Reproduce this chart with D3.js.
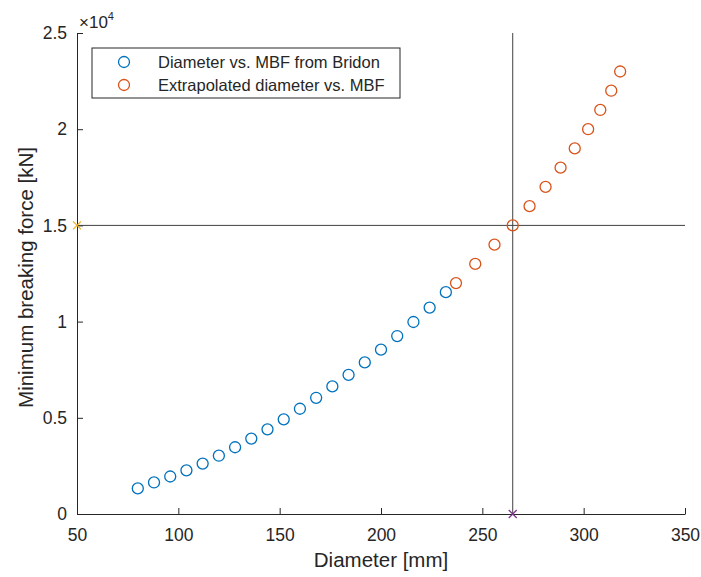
<!DOCTYPE html>
<html>
<head>
<meta charset="utf-8">
<script src="https://cdn.jsdelivr.net/npm/d3@7"></script>
<style>
  body { margin: 0; background: #fff; }
  svg { font-family: "Liberation Sans", Arial, sans-serif; }
</style>
</head>
<body>
<div id="chart"></div>
<script>
// Bridon data
const bridonDiameter = [80, 88, 96, 104, 112, 120, 128, 136, 144, 152, 160, 168, 176, 184, 192, 200, 208, 216, 224, 232];
const bridonMBF = [1330, 1640, 1950, 2270, 2620, 3030, 3470, 3920, 4400, 4920, 5470, 6040, 6630, 7230, 7880, 8540, 9250, 9980, 10730, 11530];

// Extrapolated
const extraMBF = [12000, 13000, 14000, 15000, 16000, 17000, 18000, 19000, 20000, 21000, 22000, 23000];
const extraDiameter = [237, 246.5, 256, 265, 273.3, 281.2, 288.6, 295.6, 302.2, 308.2, 313.6, 318];

const targetDiameter = 265;
const targetMBF = 15000;

const xTicks = [50, 100, 150, 200, 250, 300, 350];
const yTicks = [0, 5000, 10000, 15000, 20000, 25000];

const width = 701;
const height = 577;
const margin = { left: 77, right: 16, top: 33, bottom: 63 };

const svg = d3.select('#chart').append('svg')
  .attr('width', width)
  .attr('height', height);

const x = d3.scaleLinear().domain([50, 350]).range([margin.left, width - margin.right]);
const y = d3.scaleLinear().domain([0, 25000]).range([height - margin.bottom, margin.top]);

const axisColor = '#262626';
const blue = '#0072BD';
const orange = '#D95319';

/* Axes
=========================================================================*/
const xAxis = svg.append('g')
  .attr('transform', `translate(0,${y(0)})`)
  .call(d3.axisBottom(x).tickValues(xTicks).tickSizeInner(-6).tickSizeOuter(0).tickPadding(15));

const yAxis = svg.append('g')
  .attr('transform', `translate(${x(50)},0)`)
  .call(d3.axisLeft(y).tickValues(yTicks).tickSizeInner(-6).tickSizeOuter(0).tickPadding(10)
    .tickFormat((d) => d / 10000));

[xAxis, yAxis].forEach((g) => {
  g.select('.domain').attr('stroke', axisColor).attr('stroke-width', 1);
  g.selectAll('.tick line').attr('stroke', axisColor);
  g.selectAll('.tick text').attr('fill', axisColor).style('font-size', '17.5px');
});

// exponent
const expo = svg.append('text')
  .attr('x', x(50) + 2)
  .attr('y', 28)
  .attr('fill', axisColor)
  .style('font-size', '17px');
expo.append('tspan').text('\u00d710');
expo.append('tspan').attr('dy', -8).style('font-size', '11px').text('4');

svg.append('text')
  .attr('x', x(200))
  .attr('y', 567)
  .attr('text-anchor', 'middle')
  .attr('fill', axisColor)
  .style('font-size', '20.5px')
  .text('Diameter [mm]');

svg.append('text')
  .attr('transform', `translate(33,${y(12500) + 4}) rotate(-90)`)
  .attr('text-anchor', 'middle')
  .attr('fill', axisColor)
  .style('font-size', '20.5px')
  .text('Minimum breaking force [kN]');

/* Reference lines
=========================================================================*/
svg.append('line')
  .attr('x1', x(50)).attr('x2', x(350))
  .attr('y1', y(targetMBF)).attr('y2', y(targetMBF))
  .attr('stroke', '#404040').attr('stroke-width', 1);

svg.append('line')
  .attr('x1', x(targetDiameter)).attr('x2', x(targetDiameter))
  .attr('y1', y(0)).attr('y2', y(25000))
  .attr('stroke', '#404040').attr('stroke-width', 1);

function cross(cx, cy, color) {
  const s = 4;
  svg.append('path')
    .attr('d', `M${cx - s},${cy - s}L${cx + s},${cy + s}M${cx - s},${cy + s}L${cx + s},${cy - s}`)
    .attr('stroke', color).attr('stroke-width', 1.2).attr('fill', 'none');
}
cross(x(50), y(targetMBF), '#EDB120');
cross(x(targetDiameter), y(0), '#7E2F8E');

/* Points
=========================================================================*/
svg.append('g')
  .selectAll('circle')
  .data(bridonDiameter)
  .enter()
  .append('circle')
  .attr('cx', (d) => x(d))
  .attr('cy', (_, i) => y(bridonMBF[i]))
  .attr('r', 5.5)
  .attr('fill', 'none')
  .attr('stroke', blue)
  .attr('stroke-width', 1.3);

svg.append('g')
  .selectAll('circle')
  .data(extraDiameter)
  .enter()
  .append('circle')
  .attr('cx', (d) => x(d))
  .attr('cy', (_, i) => y(extraMBF[i]))
  .attr('r', 5.5)
  .attr('fill', 'none')
  .attr('stroke', orange)
  .attr('stroke-width', 1.3);

/* Legend
=========================================================================*/
const legend = svg.append('g').attr('transform', 'translate(92,48)');
legend.append('rect')
  .attr('width', 308).attr('height', 50)
  .attr('fill', '#fff').attr('stroke', axisColor).attr('stroke-width', 1);

const legendItems = [
  { label: 'Diameter vs. MBF from Bridon', color: blue },
  { label: 'Extrapolated diameter vs. MBF', color: orange },
];
const items = legend.selectAll('g.item')
  .data(legendItems)
  .enter()
  .append('g')
  .attr('transform', (_, i) => `translate(0,${14 + i * 23})`);
items.append('circle')
  .attr('cx', 32).attr('r', 5.5)
  .attr('fill', 'none')
  .attr('stroke', (d) => d.color)
  .attr('stroke-width', 1.3);
items.append('text')
  .attr('x', 66).attr('y', 0)
  .attr('dy', '0.35em')
  .attr('fill', axisColor)
  .style('font-size', '16.5px')
  .text((d) => d.label);
</script>
</body>
</html>
